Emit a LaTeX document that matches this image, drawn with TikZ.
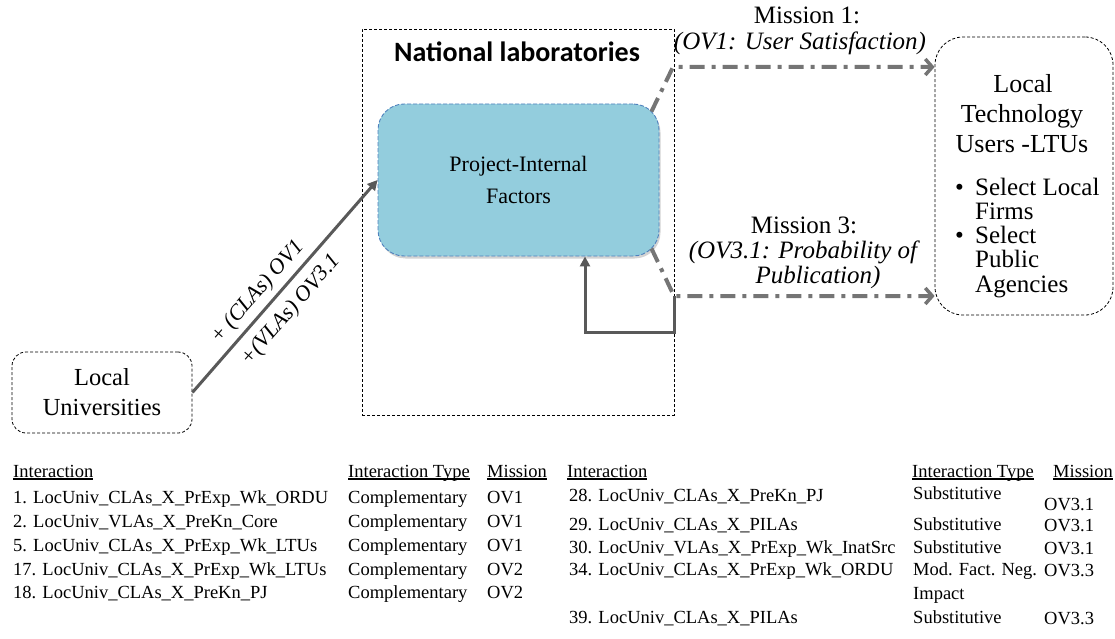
\documentclass[tikz,border=0pt]{standalone}
\usepackage{fontspec}
\setmainfont{Liberation Serif}
\newfontfamily\labfont{Carlito}
\usetikzlibrary{arrows.meta,shadows}

\definecolor{pifblue}{HTML}{93CDDD}
\definecolor{pifedge}{HTML}{4F81BD}
\definecolor{linkgray}{HTML}{595959}
\definecolor{missiongray}{HTML}{757575}

% underlined table heading with a heavier rule
\newcommand{\headtext}[1]{\setbox0\hbox{#1}\rlap{\rule[-2.5pt]{\wd0}{1.1pt}}\box0}

\tikzset{
  labbox/.style={draw, dash pattern=on 3pt off 2pt, line width=0.8pt, inner sep=0pt},
  actorbox/.style={draw, dash pattern=on 3pt off 2pt, line width=0.8pt, rounded corners=14pt, inner sep=0pt},
  pifbox/.style={draw=pifedge, fill=pifblue, dash pattern=on 4pt off 2pt, line width=0.9pt,
    rounded corners=26pt, align=center, font=\fontsize{22}{32}\selectfont,
    drop shadow={opacity=0.35, shadow xshift=1.5pt, shadow yshift=-2.5pt}},
  linkarrow/.style={draw=linkgray, line width=3pt, -{Triangle[length=10pt,width=10pt]}},
  missionarrow/.style={draw=missiongray, line width=4pt, dash pattern=on 15pt off 7pt on 4pt off 7pt,
    -{Straight Barb[length=7pt,width=16pt,line width=3.5pt]}},
  bigtext/.style={anchor=base, inner sep=0pt, font=\fontsize{25}{25}\selectfont},
  listtext/.style={anchor=base west, inner sep=0pt, font=\fontsize{25}{25}\selectfont},
  tabletext/.style={anchor=base west, inner sep=0pt, font=\fontsize{18.5}{24}\selectfont},
}

\begin{document}
\begin{tikzpicture}[x=1pt,y=-1pt]
\useasboundingbox (0,0) rectangle (1115,639);

% Drawing box of national laboratories
\node [labbox, minimum width=312pt, minimum height=386pt] (natlab) at (518,222) {};
\node [anchor=base, inner sep=0pt, font=\labfont\bfseries\fontsize{28}{30}\selectfont] (natlabtitle) at (517,62) {National laboratories};

% Drawing box of project-internal factors
\node [pifbox, minimum width=281pt, minimum height=152pt] (pif) at (518.5,180) {Project-Internal\\Factors};

% Drawing box of local universities
\node [actorbox, minimum width=180pt, minimum height=81pt, align=center, font=\fontsize{24.5}{30}\selectfont] (lu) at (102,392.5) {Local\\Universities};

% Drawing box of local technology users
\node [actorbox, rounded corners=28pt, minimum width=178pt, minimum height=278pt] (ltu) at (1024,176) {};
\node [bigtext, font=\fontsize{26}{30}\selectfont] (ltuline1) at (1023,93) {Local};
\node [bigtext, font=\fontsize{26}{30}\selectfont] (ltuline2) at (1022,123) {Technology};
\node [bigtext, font=\fontsize{26}{30}\selectfont] (ltuline3) at (1022,153) {Users -LTUs};

% Marking the two kinds of users
\node [listtext] (dotfirms) at (955,195) {\textbullet};
\node [listtext] (firms1) at (975,195) {Select Local};
\node [listtext] (firms2) at (975,219) {Firms};
\node [listtext] (dotagency) at (955,243) {\textbullet};
\node [listtext] (agency1) at (975,243) {Select};
\node [listtext] (agency2) at (975,267) {Public};
\node [listtext] (agency3) at (975,292) {Agencies};

% Drawing link from universities to the project
\draw [linkarrow] (lu.east) -- (pif.west)
  node [sloped, above, pos=0.42, inner sep=5pt, font=\itshape\fontsize{22}{24}\selectfont] (clalabel) {+ (CLAs) OV1}
  node [sloped, below, pos=0.45, inner sep=9pt, font=\itshape\fontsize{22}{24}\selectfont] (vlalabel) {+(VLAs) OV3.1};

% Drawing mission 1
\coordinate (m1bend) at (673,67);
\draw [missionarrow] ([xshift=-8pt,yshift=-8pt]pif.north east) -- (m1bend) -- (m1bend -| ltu.west);
\node [bigtext] (m1title) at (807,24) {Mission 1:};
\node [bigtext, font=\itshape\fontsize{25}{25}\selectfont] (m1goal) at (800,50) {(OV1: User Satisfaction)};

% Drawing mission 3
\coordinate (m3bend) at (674,296);
\draw [missionarrow] ([xshift=-8pt,yshift=8pt]pif.south east) -- (m3bend) -- (m3bend -| ltu.west);
\node [bigtext] (m3title) at (804,233) {Mission 3:};
\node [bigtext, font=\itshape\fontsize{25}{25}\selectfont] (m3goal1) at (803,258) {(OV3.1: Probability of};
\node [bigtext, font=\itshape\fontsize{25}{25}\selectfont] (m3goal2) at (818,283) {Publication)};

% Drawing feedback loop
\coordinate (fbfoot) at (585,332);
\draw [linkarrow] (m3bend) |- (fbfoot) -- (fbfoot |- pif.south);

% Left table
\node [tabletext] (lhead1) at (13,477) {\headtext{Interaction}};
\node [tabletext] (lhead2) at (348,477) {\headtext{Interaction Type}};
\node [tabletext] (lhead3) at (487,477) {\headtext{Mission}};
\node [tabletext] (lrow1a) at (13,503) {1. LocUniv\_CLAs\_X\_PrExp\_Wk\_ORDU};
\node [tabletext] (lrow1b) at (348,503) {Complementary};
\node [tabletext] (lrow1c) at (487,503) {OV1};
\node [tabletext] (lrow2a) at (13,527) {2. LocUniv\_VLAs\_X\_PreKn\_Core};
\node [tabletext] (lrow2b) at (348,527) {Complementary};
\node [tabletext] (lrow2c) at (487,527) {OV1};
\node [tabletext] (lrow3a) at (13,551) {5. LocUniv\_CLAs\_X\_PrExp\_Wk\_LTUs};
\node [tabletext] (lrow3b) at (348,551) {Complementary};
\node [tabletext] (lrow3c) at (487,551) {OV1};
\node [tabletext] (lrow4a) at (13,575) {17. LocUniv\_CLAs\_X\_PrExp\_Wk\_LTUs};
\node [tabletext] (lrow4b) at (348,575) {Complementary};
\node [tabletext] (lrow4c) at (487,575) {OV2};
\node [tabletext] (lrow5a) at (13,598) {18. LocUniv\_CLAs\_X\_PreKn\_PJ};
\node [tabletext] (lrow5b) at (348,598) {Complementary};
\node [tabletext] (lrow5c) at (487,598) {OV2};

% Right table
\node [tabletext] (rhead1) at (567,477) {\headtext{Interaction}};
\node [tabletext] (rhead2) at (912,477) {\headtext{Interaction Type}};
\node [tabletext] (rhead3) at (1053,477) {\headtext{Mission}};
\node [tabletext] (rrow1a) at (569,501) {28. LocUniv\_CLAs\_X\_PreKn\_PJ};
\node [tabletext] (rrow1b) at (913,499) {Substitutive};
\node [tabletext] (rrow1c) at (1044,510) {OV3.1};
\node [tabletext] (rrow2a) at (569,530) {29. LocUniv\_CLAs\_X\_PILAs};
\node [tabletext] (rrow2b) at (913,530) {Substitutive};
\node [tabletext] (rrow2c) at (1044,531) {OV3.1};
\node [tabletext] (rrow3a) at (569,553) {30. LocUniv\_VLAs\_X\_PrExp\_Wk\_InatSrc};
\node [tabletext] (rrow3b) at (913,553) {Substitutive};
\node [tabletext] (rrow3c) at (1044,554) {OV3.1};
\node [tabletext] (rrow4a) at (569,575) {34. LocUniv\_CLAs\_X\_PrExp\_Wk\_ORDU};
\node [tabletext] (rrow4b) at (913,575) {Mod. Fact. Neg.};
\node [tabletext] (rrow4d) at (913,599) {Impact};
\node [tabletext] (rrow4c) at (1044,576) {OV3.3};
\node [tabletext] (rrow5a) at (569,623) {39. LocUniv\_CLAs\_X\_PILAs};
\node [tabletext] (rrow5b) at (913,623) {Substitutive};
\node [tabletext] (rrow5c) at (1044,624) {OV3.3};
\end{tikzpicture}
\end{document}
